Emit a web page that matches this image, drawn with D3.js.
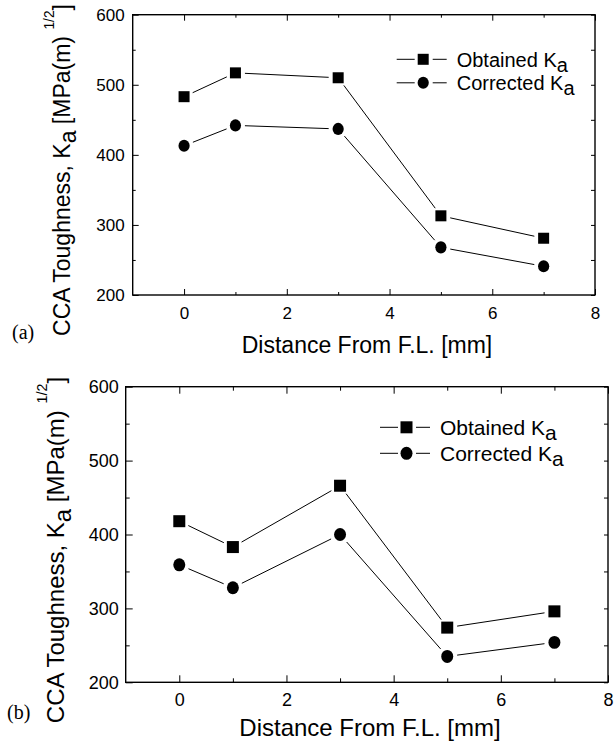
<!DOCTYPE html>
<html>
<head>
<meta charset="utf-8">
<script src="https://cdn.jsdelivr.net/npm/d3@7"></script>
<style>
  body { margin: 0; background: #fff; }
  svg { display: block; }
  text { font-family: "Liberation Sans", Arial, sans-serif; fill: #000; }
  .tag { font-family: "Liberation Serif", "Times New Roman", serif; }
</style>
</head>
<body>
<svg id="chart" width="614" height="745"></svg>
<script>
// data
const distances = [0, 1, 3, 5, 7];
const obtainedA = [483, 517, 510, 313, 281];
const correctedA = [413, 442, 437, 268, 241];
const obtainedB = [418, 383, 466, 274, 296];
const correctedB = [359, 328, 400, 235, 254];
const xTicks = [0, 2, 4, 6, 8];
const xMinor = [1, 3, 5, 7];
const yTicks = [200, 300, 400, 500, 600];
const yMinor = [250, 350, 450, 550];
const seriesNames = ["Obtained K", "Corrected K"];

let svg = d3.select("svg#chart");

function drawPanel(p) {
  let x = d3.scaleLinear().domain([-1, 8]).range([p.left, p.right]),
    y = d3.scaleLinear().domain([200, 600]).range([p.bottom, p.top]);
  let g = svg.append("g");

  // ticks, all pointing inward
  let bottomAx = g.append("g")
    .attr("transform", "translate(0," + p.bottom + ")")
    .call(d3.axisBottom(x).tickValues(xTicks).tickSize(-p.major).tickPadding(p.xPad));
  g.append("g")
    .attr("transform", "translate(0," + p.bottom + ")")
    .call(d3.axisBottom(x).tickValues(xMinor).tickSize(-p.minor).tickFormat(""));
  g.append("g")
    .attr("transform", "translate(0," + p.top + ")")
    .call(d3.axisTop(x).tickValues(xTicks).tickSize(-p.major).tickFormat(""));
  g.append("g")
    .attr("transform", "translate(0," + p.top + ")")
    .call(d3.axisTop(x).tickValues(xMinor).tickSize(-p.minor).tickFormat(""));
  let leftAx = g.append("g")
    .attr("transform", "translate(" + p.left + ",0)")
    .call(d3.axisLeft(y).tickValues(yTicks).tickSize(-p.major).tickPadding(p.yPad));
  g.append("g")
    .attr("transform", "translate(" + p.left + ",0)")
    .call(d3.axisLeft(y).tickValues(yMinor).tickSize(-p.minor).tickFormat(""));
  g.append("g")
    .attr("transform", "translate(" + p.right + ",0)")
    .call(d3.axisRight(y).tickValues(yTicks.concat(yMinor)).tickSize(-4).tickFormat(""));

  g.selectAll(".domain").remove();
  g.selectAll(".tick line").attr("stroke", "#000").attr("stroke-width", 1);
  g.selectAll("g").attr("font-family", null).attr("font-size", null);
  bottomAx.selectAll("text").style("font-size", p.tickFont + "px").attr("fill", "#000");
  leftAx.selectAll("text").style("font-size", p.tickFont + "px").attr("fill", "#000");

  // frame
  g.append("rect")
    .attr("x", p.left).attr("y", p.top)
    .attr("width", p.right - p.left).attr("height", p.bottom - p.top)
    .attr("fill", "none").attr("stroke", "#000").attr("stroke-width", 1.4);

  // connecting lines, cut short near each marker
  [p.obtained, p.corrected].forEach(function (vals) {
    let pts = distances.map((d, i) => [x(d), y(vals[i])]);
    d3.pairs(pts).forEach(function (pr) {
      let dx = pr[1][0] - pr[0][0], dy = pr[1][1] - pr[0][1];
      let len = Math.sqrt(dx * dx + dy * dy), k = p.gap / len;
      g.append("line")
        .attr("x1", pr[0][0] + dx * k).attr("y1", pr[0][1] + dy * k)
        .attr("x2", pr[1][0] - dx * k).attr("y2", pr[1][1] - dy * k)
        .attr("stroke", "#000").attr("stroke-width", 1);
    });
  });

  g.selectAll(".sq")
    .data(distances)
    .enter()
    .append("rect")
    .attr("class", "sq")
    .attr("x", (d) => x(d) - p.sq / 2)
    .attr("y", (d, i) => y(p.obtained[i]) - p.sq / 2)
    .attr("width", p.sq).attr("height", p.sq)
    .attr("fill", "#000");
  g.selectAll(".dot")
    .data(distances)
    .enter()
    .append("ellipse")
    .attr("class", "dot")
    .attr("cx", (d) => x(d))
    .attr("cy", (d, i) => y(p.corrected[i]))
    .attr("rx", p.r).attr("ry", p.r * 1.08)
    .attr("fill", "#000");

  // legend
  seriesNames.forEach(function (name, i) {
    let ly = p.legY + i * p.legStep, lx = p.legX;
    g.append("line").attr("x1", lx).attr("x2", lx + 18).attr("y1", ly).attr("y2", ly)
      .attr("stroke", "#000").attr("stroke-width", 1);
    g.append("line").attr("x1", lx + 36).attr("x2", lx + 50).attr("y1", ly).attr("y2", ly)
      .attr("stroke", "#000").attr("stroke-width", 1);
    if (i === 0) {
      g.append("rect").attr("x", lx + 26.5 - p.sq / 2).attr("y", ly - p.sq / 2)
        .attr("width", p.sq).attr("height", p.sq).attr("fill", "#000");
    } else {
      g.append("ellipse").attr("cx", lx + 26.5).attr("cy", ly)
        .attr("rx", p.r).attr("ry", p.r * 1.08).attr("fill", "#000");
    }
    let t = g.append("text")
      .attr("x", lx + 60).attr("y", ly + p.legFont * 0.36)
      .style("font-size", p.legFont + "px")
      .text(name);
    t.append("tspan").attr("dy", p.legFont * 0.25).text("a");
  });

  // axis titles
  g.append("text")
    .attr("x", p.xTitleX).attr("y", p.xTitleY)
    .attr("text-anchor", "middle")
    .style("font-size", p.titleFont + "px")
    .text("Distance From F.L. [mm]");

  let yt = g.append("text")
    .attr("transform", "translate(" + p.yTitleX + "," + p.yTitleY + ") rotate(-90)")
    .attr("text-anchor", "middle")
    .style("font-size", p.titleFont + "px");
  yt.append("tspan").text("CCA Toughness, K");
  yt.append("tspan").attr("dy", p.titleFont * 0.28).text("a");
  yt.append("tspan").attr("dy", -p.titleFont * 0.28).text(" [MPa(m) ");
  yt.append("tspan").attr("dy", -p.titleFont * 0.7)
    .style("font-size", (p.titleFont * 0.6) + "px").text("1/2");
  yt.append("tspan").attr("dy", p.titleFont * 0.7).text("]");

  g.append("text")
    .attr("class", "tag")
    .attr("x", p.tagX).attr("y", p.tagY)
    .style("font-size", p.tagFont + "px")
    .text(p.tag);
}

drawPanel({
  left: 132.7, right: 595, top: 14.7, bottom: 295,
  obtained: obtainedA, corrected: correctedA,
  major: 6, minor: 3, xPad: 12, yPad: 8, tickFont: 17,
  gap: 9.5, sq: 11, r: 5.6,
  legX: 396.7, legY: 59.3, legStep: 23.5, legFont: 20,
  xTitleX: 367, xTitleY: 353, titleFont: 23,
  yTitleX: 70, yTitleY: 170,
  tag: "(a)", tagX: 12, tagY: 339, tagFont: 20
});

drawPanel({
  left: 125.7, right: 608, top: 386.7, bottom: 682.3,
  obtained: obtainedB, corrected: correctedB,
  major: 7, minor: 4, xPad: 11, yPad: 7, tickFont: 18,
  gap: 10, sq: 12, r: 6,
  legX: 380, legY: 427.3, legStep: 26, legFont: 21,
  xTitleX: 370, xTitleY: 736, titleFont: 24,
  yTitleX: 64, yTitleY: 550,
  tag: "(b)", tagX: 7, tagY: 719, tagFont: 20
});
</script>
</body>
</html>
